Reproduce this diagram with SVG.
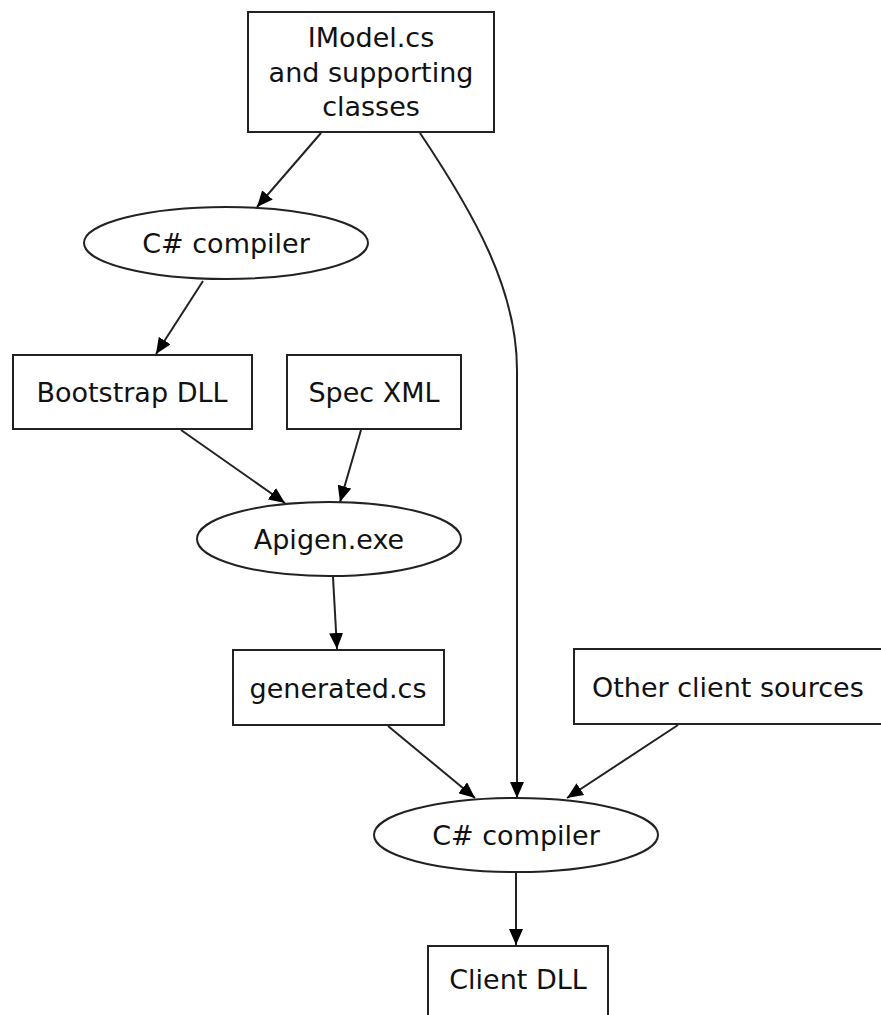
<svg xmlns="http://www.w3.org/2000/svg" width="881" height="1015" viewBox="0 0 881 1015">
<defs>
<style>
.n rect,.n ellipse{fill:#fff;stroke:#222;stroke-width:2}
.n text{font-family:"DejaVu Sans",sans-serif;font-size:27px;fill:#111;text-anchor:middle}
#edges path{fill:none;stroke:#222;stroke-width:2}
</style>
<marker id="ah" markerUnits="userSpaceOnUse" markerWidth="18" markerHeight="14" refX="16" refY="7" orient="auto">
<path d="M0,0 L16,7 L0,14 z" fill="#000"/>
</marker>
</defs>
<rect width="881" height="1015" fill="#fff"/>
<g id="edges">
<path d="M321,133 L257,207" marker-end="url(#ah)"/>
<path d="M420,133 C475,215 517,290 517,370 L517,798" marker-end="url(#ah)"/>
<path d="M203,281 L156,354" marker-end="url(#ah)"/>
<path d="M181,430 L285,503" marker-end="url(#ah)"/>
<path d="M361,430 L340,502" marker-end="url(#ah)"/>
<path d="M333,577 L337,649" marker-end="url(#ah)"/>
<path d="M388,726 L475,798" marker-end="url(#ah)"/>
<path d="M678,725 L567,798" marker-end="url(#ah)"/>
<path d="M516,872 L516,945" marker-end="url(#ah)"/>
</g>
<g id="imodel" class="n">
<rect x="248" y="12" width="246" height="120"/>
<text x="371" y="47">IModel.cs</text>
<text x="371" y="82">and supporting</text>
<text x="371" y="116">classes</text>
</g>
<g id="csc1" class="n">
<ellipse cx="226" cy="243" rx="142" ry="36"/>
<text x="226" y="253">C# compiler</text>
</g>
<g id="bootstrap" class="n">
<rect x="13" y="355" width="239" height="74"/>
<text x="132" y="402">Bootstrap DLL</text>
</g>
<g id="specxml" class="n">
<rect x="287" y="355" width="174" height="74"/>
<text x="374" y="402">Spec XML</text>
</g>
<g id="apigen" class="n">
<ellipse cx="329" cy="539" rx="132" ry="37"/>
<text x="329" y="549">Apigen.exe</text>
</g>
<g id="generated" class="n">
<rect x="233" y="650" width="211" height="75"/>
<text x="338" y="698">generated.cs</text>
</g>
<g id="other" class="n">
<rect x="574" y="649" width="330" height="75"/>
<text x="592" y="697" style="text-anchor:start">Other client sources</text>
</g>
<g id="csc2" class="n">
<ellipse cx="516" cy="835" rx="142" ry="37"/>
<text x="516" y="845">C# compiler</text>
</g>
<g id="clientdll" class="n">
<rect x="428" y="946" width="180" height="100"/>
<text x="518" y="989">Client DLL</text>
</g>
</svg>
